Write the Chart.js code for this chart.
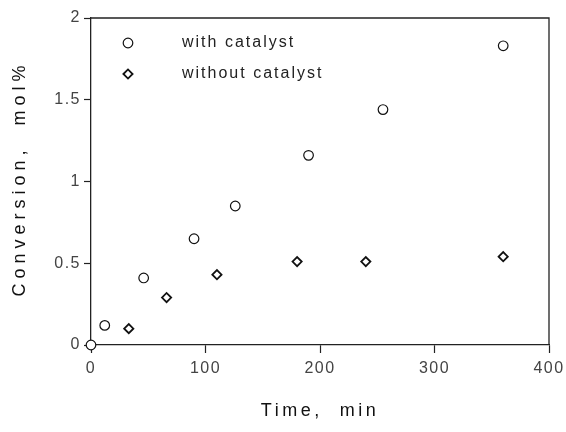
<!DOCTYPE html>
<html>
<head>
<meta charset="utf-8">
<script src="https://cdn.jsdelivr.net/npm/chart.js@4"></script>
<style>
  html, body { margin: 0; padding: 0; background: #fff; }
</style>
</head>
<body>
<canvas id="myChart" width="566" height="432"></canvas>
<script>
// data
const withTime = [0, 12, 46, 90, 126, 190, 255, 360];
const withConv = [0, 0.12, 0.41, 0.65, 0.85, 1.16, 1.44, 1.83];
const withoutTime = [33, 66, 110, 180, 240, 360];
const withoutConv = [0.10, 0.29, 0.43, 0.51, 0.51, 0.54];
const xTicks = [0, 100, 200, 300, 400];
const yTicks = [0, 0.5, 1, 1.5, 2];
const seriesNames = ['with catalyst', 'without catalyst'];
const xTitle = 'Time,  min';
const yTitle = 'Conversion,  mol%';

const FONT = '"Liberation Sans", Arial, Helvetica, sans-serif';
Chart.defaults.font.family = FONT;

const toPts = (xs, ys) => xs.map((x, i) => ({ x: x, y: ys[i] }));

// axis titles, frame and in-plot legend
const decor = {
  id: 'decor',
  beforeDraw(chart) {
    // slightly spaced tick labels, like the scanned original
    chart.ctx.letterSpacing = '1.5px';
  },
  beforeDatasetsDraw(chart) {
    const { ctx, chartArea: a } = chart;
    ctx.save();
    ctx.strokeStyle = '#222';
    ctx.lineWidth = 1.3;
    ctx.beginPath();
    ctx.moveTo(a.left, a.top);
    ctx.lineTo(a.right, a.top);
    ctx.lineTo(a.right, a.bottom);
    ctx.stroke();
    ctx.restore();
  },
  afterDraw(chart) {
    const { ctx, chartArea: a } = chart;
    ctx.save();
    ctx.fillStyle = '#111';
    ctx.font = '18px ' + FONT;
    ctx.textAlign = 'center';
    ctx.textBaseline = 'middle';
    ctx.letterSpacing = '3.5px';
    ctx.fillText(xTitle, (a.left + a.right) / 2, 411);
    ctx.letterSpacing = '5px';
    ctx.translate(20, (a.top + a.bottom) / 2 - 3);
    ctx.rotate(-Math.PI / 2);
    ctx.fillText(yTitle, 0, 0);
    ctx.restore();

    ctx.save();
    ctx.font = '16px ' + FONT;
    ctx.letterSpacing = '2px';
    ctx.textAlign = 'left';
    ctx.textBaseline = 'middle';
    chart.data.datasets.forEach((ds, i) => {
      const y = 43 + i * 31;
      ctx.strokeStyle = ds.pointBorderColor;
      ctx.fillStyle = '#fff';
      ctx.lineWidth = ds.pointBorderWidth;
      Chart.helpers.drawPoint(ctx, { pointStyle: ds.pointStyle, radius: ds.pointRadius, borderWidth: ds.pointBorderWidth }, 128, y);
      ctx.fillStyle = '#222';
      ctx.fillText(ds.label, 182, y);
    });
    ctx.restore();
    ctx.letterSpacing = '0px';
  }
};

new Chart(document.getElementById('myChart'), {
  type: 'scatter',
  data: {
    datasets: [
      {
        label: seriesNames[0],
        data: toPts(withTime, withConv),
        pointStyle: 'circle',
        pointRadius: 4.8,
        pointBorderWidth: 1.2,
        pointBorderColor: '#111',
        pointBackgroundColor: '#fff',
        clip: false
      },
      {
        label: seriesNames[1],
        data: toPts(withoutTime, withoutConv),
        pointStyle: 'rectRot',
        pointRadius: 4.6,
        pointBorderWidth: 1.8,
        pointBorderColor: '#111',
        pointBackgroundColor: '#fff',
        clip: false
      }
    ]
  },
  options: {
    responsive: false,
    animation: false,
    layout: { padding: { top: 18, right: 17, left: 0, bottom: 0 } },
    plugins: { legend: { display: false }, tooltip: { enabled: false } },
    scales: {
      x: {
        type: 'linear',
        min: 0,
        max: 400,
        afterBuildTicks: s => { s.ticks = xTicks.map(v => ({ value: v })); },
        afterFit: s => { s.height = 87; s.paddingLeft = 0; s.paddingRight = 0; },
        ticks: { color: '#444', font: { size: 16 }, padding: 6, callback: v => String(v) },
        grid: { drawOnChartArea: false, tickLength: 8, color: '#222', tickWidth: 1.2 },
        border: { color: '#222', width: 1.3 }
      },
      y: {
        type: 'linear',
        min: 0,
        max: 2,
        afterBuildTicks: s => { s.ticks = yTicks.map(v => ({ value: v })); },
        afterFit: s => { s.width = 91; s.paddingTop = 0; s.paddingBottom = 0; },
        ticks: { color: '#444', font: { size: 16 }, padding: 3, callback: v => String(v) },
        grid: { drawOnChartArea: false, tickLength: 7, color: '#222', tickWidth: 1.2 },
        border: { color: '#222', width: 1.3 }
      }
    }
  },
  plugins: [decor]
});
</script>
</body>
</html>
